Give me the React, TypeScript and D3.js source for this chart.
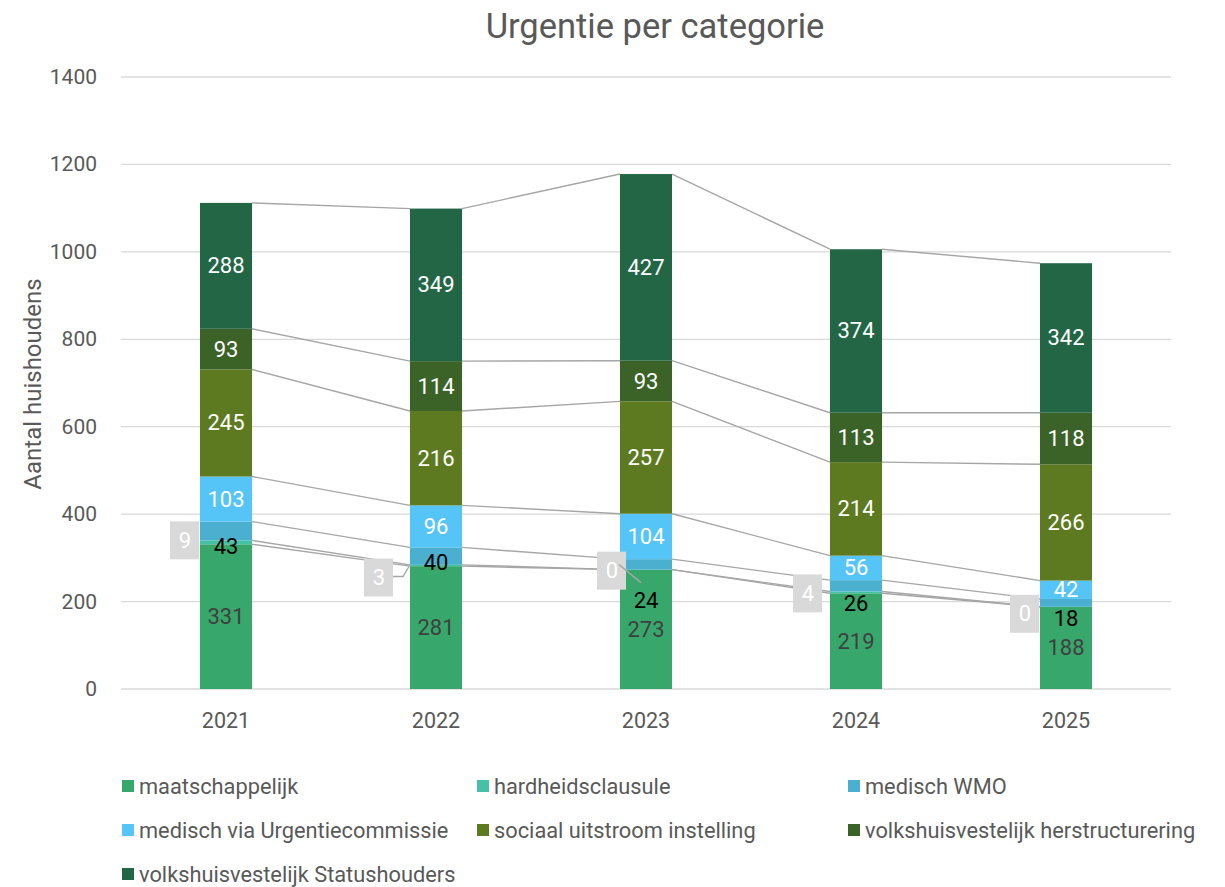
import { useEffect, useRef } from 'react';
import * as d3 from 'd3';

const years = ['2021', '2022', '2023', '2024', '2025'];
const seriesNames = [
  'maatschappelijk',
  'hardheidsclausule',
  'medisch WMO',
  'medisch via Urgentiecommissie',
  'sociaal uitstroom instelling',
  'volkshuisvestelijk herstructurering',
  'volkshuisvestelijk Statushouders',
];
const maatschappelijk = [331, 281, 273, 219, 188];
const hardheidsclausule = [9, 3, 0, 4, 0];
const medischWmo = [43, 40, 24, 26, 18];
const medischUrgentie = [103, 96, 104, 56, 42];
const sociaalUitstroom = [245, 216, 257, 214, 266];
const herstructurering = [93, 114, 93, 113, 118];
const statushouders = [288, 349, 427, 374, 342];
const yTicks = [0, 200, 400, 600, 800, 1000, 1200, 1400];

const colors = ['#38a76c', '#45c2a5', '#4bb0cf', '#55c4f7', '#5d7a21', '#3b6227', '#226645'];
const labelColors = ['#404040', '#ffffff', '#000000', '#ffffff', '#ffffff', '#ffffff', '#ffffff'];

// Excel moved some labels off their segment; pixel nudges per year
const wmoLabelShift = [16, 6, 36, 18, 16];
const boxShift = [
  { dx: -41, dy: -2 },
  { dx: -57, dy: 12 },
  { dx: -34, dy: 1 },
  { dx: -48, dy: 1 },
  { dx: -41, dy: 7 },
];

const FONT = 'Roboto, "Open Sans", sans-serif';
const GREY = '#595959';

function App() {
  const ref = useRef<SVGSVGElement>(null);

  useEffect(() => {
    document.body.style.margin = '0';
    const svg = d3.select(ref.current);
    svg.selectAll('*').remove();

    const rows = years.map((yr, i) => ({
      year: yr,
      s0: maatschappelijk[i], s1: hardheidsclausule[i], s2: medischWmo[i], s3: medischUrgentie[i],
      s4: sociaalUitstroom[i], s5: herstructurering[i], s6: statushouders[i],
    }));
    const keys = ['s0', 's1', 's2', 's3', 's4', 's5', 's6'];
    const stacked = d3.stack<any>().keys(keys)(rows);

    const x = d3.scaleBand().domain(years).range([121, 1171]).paddingInner(0.752).paddingOuter(0.376);
    const y = d3.scaleLinear().domain([0, 1400]).range([689, 77]);
    const bw = x.bandwidth();

    // title
    svg.append('text').attr('x', 655).attr('y', 38).attr('text-anchor', 'middle')
      .style('font-family', FONT).style('font-size', '34.5px').style('fill', GREY)
      .text('Urgentie per categorie');

    // grid
    svg.append('g').selectAll('line').data(yTicks).enter().append('line')
      .attr('x1', 121).attr('x2', 1171)
      .attr('y1', d => y(d)).attr('y2', d => y(d))
      .attr('stroke', '#d9d9d9').attr('stroke-width', 1.3);

    svg.append('g').selectAll('text').data(yTicks).enter().append('text')
      .attr('x', 97).attr('y', d => y(d)).attr('text-anchor', 'end').attr('dominant-baseline', 'central')
      .style('font-family', FONT).style('font-size', '21px').style('fill', GREY)
      .text(d => d);

    svg.append('g').selectAll('text').data(years).enter().append('text')
      .attr('x', d => (x(d) as number) + bw / 2).attr('y', 720).attr('text-anchor', 'middle')
      .attr('dominant-baseline', 'central')
      .style('font-family', FONT).style('font-size', '21.5px').style('fill', GREY)
      .text(d => d);

    svg.append('text').attr('transform', 'translate(33,384) rotate(-90)')
      .attr('text-anchor', 'middle').attr('dominant-baseline', 'central')
      .style('font-family', FONT).style('font-size', '24px').style('fill', GREY)
      .text('Aantal huishoudens');

    // series lines between bars
    stacked.forEach(layer => {
      for (let i = 0; i < years.length - 1; i++) {
        svg.append('line')
          .attr('x1', (x(years[i]) as number) + bw).attr('y1', y(layer[i][1]))
          .attr('x2', x(years[i + 1]) as number).attr('y2', y(layer[i + 1][1]))
          .attr('stroke', '#a6a6a6').attr('stroke-width', 1.4);
      }
    });

    // bars
    stacked.forEach((layer, si) => {
      svg.append('g').selectAll('rect').data(layer).enter().append('rect')
        .attr('x', d => x(d.data.year) as number).attr('width', bw)
        .attr('y', d => y(d[1])).attr('height', d => y(d[0]) - y(d[1]))
        .attr('fill', colors[si]);
    });

    // data labels
    stacked.forEach((layer, si) => {
      layer.forEach((d, i) => {
        const cx = (x(d.data.year) as number) + bw / 2;
        const cy = y((d[0] + d[1]) / 2);
        const val = d[1] - d[0];
        if (si === 1) {
          const bx = cx + boxShift[i].dx;
          const by = cy + boxShift[i].dy;
          if (i === 1) {
            svg.append('polyline')
              .attr('points', `${bx + 14},${by - 1} ${bx + 24},${by - 1} ${cx - 27},${cy + 1}`)
              .attr('fill', 'none').attr('stroke', '#a6a6a6').attr('stroke-width', 1.4);
          }
          svg.append('rect').attr('x', bx - 15).attr('y', by - 19).attr('width', 29).attr('height', 38)
            .attr('fill', '#d9d9d9');
          if (i === 2) {
            svg.append('line').attr('x1', bx + 7).attr('y1', by - 6).attr('x2', cx - 5).attr('y2', by + 12)
              .attr('stroke', '#a6a6a6').attr('stroke-width', 1.4);
          }
          svg.append('text').attr('x', bx).attr('y', by).attr('text-anchor', 'middle')
            .attr('dominant-baseline', 'central')
            .style('font-family', FONT).style('font-size', '22px').style('fill', '#ffffff')
            .text(val);
          return;
        }
        const shift = si === 2 ? wmoLabelShift[i] : 0;
        svg.append('text').attr('x', cx).attr('y', cy + shift).attr('text-anchor', 'middle')
          .attr('dominant-baseline', 'central')
          .style('font-family', FONT).style('font-size', '22px').style('fill', labelColors[si])
          .text(val);
      });
    });

    // legend
    const colX = [122, 477, 848];
    const rowY = [786, 830, 874];
    seriesNames.forEach((name, i) => {
      const lx = colX[i % 3];
      const ly = rowY[Math.floor(i / 3)];
      svg.append('rect').attr('x', lx).attr('y', ly - 6).attr('width', 12).attr('height', 12).attr('fill', colors[i]);
      svg.append('text').attr('x', lx + 17).attr('y', ly).attr('dominant-baseline', 'central')
        .style('font-family', FONT).style('font-size', '21.8px').style('fill', GREY)
        .text(name);
    });
  }, []);

  return <svg ref={ref} width={1225} height={887} style={{ display: 'block', background: '#fff' }} />;
}

export default App;
